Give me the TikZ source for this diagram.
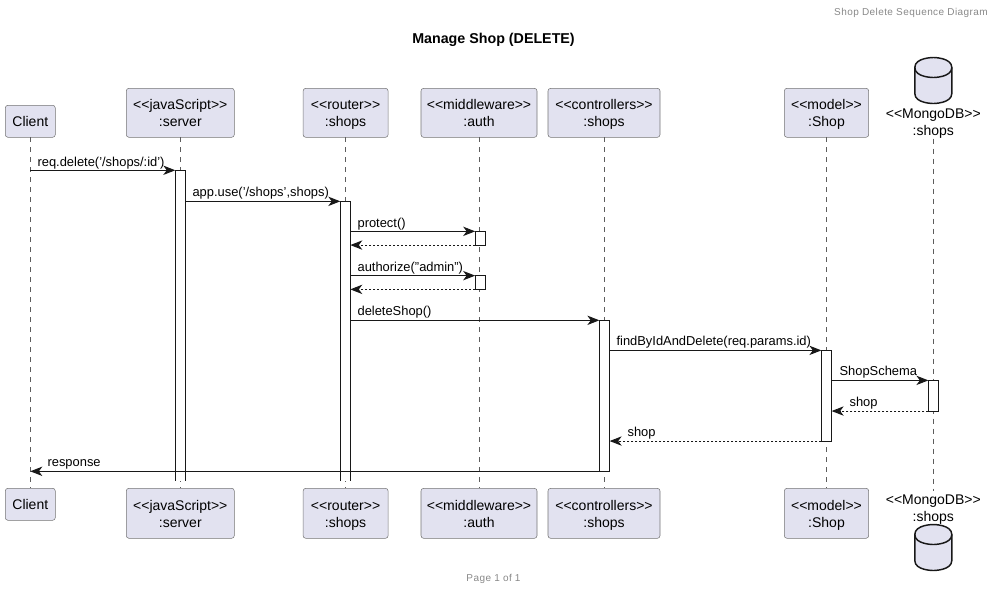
\documentclass[tikz,border=0pt]{standalone}
\usepackage{fontspec}
\setmainfont{Liberation Sans}
\usetikzlibrary{arrows.meta}
\definecolor{boxFill}{HTML}{E2E2F0}
\definecolor{lineDark}{HTML}{181818}
\definecolor{noteGray}{HTML}{888888}
\newcommand{\lineProp}{\rule[-2.3pt]{0pt}{12.75pt}}
\newcommand{\stereoText}[2]{\lineProp<{}<#1>{}>\\\lineProp#2}
\tikzset{
	dbDrum/.pic={
		\draw[draw=lineDark, fill=boxFill, line width=1.1pt] (-18.5,10) .. controls (-18.5,0) and (0,0) .. (0,0) .. controls (0,0) and (18.5,0) .. (18.5,10) -- (18.5,36) .. controls (18.5,46) and (0,46) .. (0,46) .. controls (0,46) and (-18.5,46) .. (-18.5,36) -- cycle;
		\draw[draw=lineDark, line width=1.1pt] (-18.5,10) .. controls (-18.5,20) and (0,20) .. (0,20) .. controls (0,20) and (18.5,20) .. (18.5,10);
	}
}
\tikzstyle{actorBox}=[draw=lineDark!60, fill=boxFill, rounded corners=2pt, line width=.4pt, align=center, inner sep=0pt, outer sep=0pt, font=\fontsize{10.5}{12.75}\selectfont]
\tikzstyle{dbText}=[align=center, inner sep=0pt, outer sep=0pt, font=\fontsize{10.5}{12.75}\selectfont]
\tikzstyle{lifeLine}=[draw=lineDark!70, line width=.4pt, dash pattern=on 3.75pt off 3.75pt]
\tikzstyle{activeBar}=[draw=lineDark, fill=white, line width=.75pt, minimum width=7.7pt, inner sep=0pt, outer sep=0pt]
\tikzstyle{openBar}=[fill=white, minimum width=7.5pt, inner sep=0pt, outer sep=0pt]
\tikzstyle{barEdge}=[draw=lineDark, line width=.75pt]
\tikzstyle{callMsg}=[draw=lineDark, line width=.75pt, -{Stealth[length=9pt, width=7pt, inset=2.6pt]}]
\tikzstyle{returnMsg}=[callMsg, dash pattern=on 1.5pt off 1.5pt]
\tikzstyle{msgText}=[anchor=base west, inner sep=0pt, font=\fontsize{9.68}{12}\selectfont]

\begin{document}
\begin{tikzpicture}[x=.75pt, y=-.75pt]
	\useasboundingbox (0,0) rectangle (994,590);

	\node[anchor=base east, inner sep=0pt, text=noteGray, font=\fontsize{7.5}{9}\selectfont\addfontfeature{LetterSpace=4.2}] (headerText) at (988,15.5) {Shop Delete Sequence Diagram};
	\node[inner sep=0pt, font=\fontsize{10.7}{12}\selectfont\bfseries] (titleText) at (493.5,39.5) {Manage Shop (DELETE)};
	\node[inner sep=0pt, text=noteGray, font=\fontsize{7.5}{9}\selectfont\addfontfeature{LetterSpace=4.2}] (footerText) at (493.5,578.5) {Page 1 of 1};

	% top row
	\node[actorBox, minimum width=37.5pt, minimum height=24pt] (clientTop) at (30.3,121.3) {\lineProp Client};
	\node[actorBox, minimum width=81pt, minimum height=36.75pt] (serverTop) at (180.3,112.8) {\stereoText{javaScript}{:server}};
	\node[actorBox, minimum width=63.75pt, minimum height=36.75pt] (routerTop) at (345.6,112.8) {\stereoText{router}{:shops}};
	\node[actorBox, minimum width=87pt, minimum height=36.75pt] (authTop) at (479,112.8) {\stereoText{middleware}{:auth}};
	\node[actorBox, minimum width=84pt, minimum height=36.75pt] (ctrlTop) at (604,112.8) {\stereoText{controllers}{:shops}};
	\node[actorBox, minimum width=63.25pt, minimum height=36.75pt] (modelTop) at (826.5,112.8) {\stereoText{model}{:Shop}};
	\node[dbText] (dbTop) at (933.3,121.5) {\stereoText{MongoDB}{:shops}};
	\pic at (933.3,57.5) {dbDrum};

	% bottom row
	\node[actorBox, minimum width=37.5pt, minimum height=24pt] (clientEnd) at (30.3,504.3) {\lineProp Client};
	\node[actorBox, minimum width=81pt, minimum height=37.5pt] (serverEnd) at (180.3,513.3) {\stereoText{javaScript}{:server}};
	\node[actorBox, minimum width=63.75pt, minimum height=37.5pt] (routerEnd) at (345.6,513.3) {\stereoText{router}{:shops}};
	\node[actorBox, minimum width=87pt, minimum height=37.5pt] (authEnd) at (479,513.3) {\stereoText{middleware}{:auth}};
	\node[actorBox, minimum width=84pt, minimum height=37.5pt] (ctrlEnd) at (604,513.3) {\stereoText{controllers}{:shops}};
	\node[actorBox, minimum width=63.25pt, minimum height=37.5pt] (modelEnd) at (826.5,513.3) {\stereoText{model}{:Shop}};
	\node[dbText] (dbEnd) at (933.3,507.5) {\stereoText{MongoDB}{:shops}};
	\pic at (933.3,524.5) {dbDrum};

	% life lines
	\draw[lifeLine] (clientTop) -- (clientEnd);
	\draw[lifeLine] (serverTop) -- (serverEnd);
	\draw[lifeLine] (routerTop) -- (routerEnd);
	\draw[lifeLine] (authTop) -- (authEnd);
	\draw[lifeLine] (ctrlTop) -- (ctrlEnd);
	\draw[lifeLine] (modelTop) -- (modelEnd);
	\draw[lifeLine] (dbTop) -- (dbEnd);

	% activations
	\node[openBar, minimum height=233pt] (serverBar) at (180.3,325.6) {};
	\draw[barEdge] (serverBar.south west) -- (serverBar.north west) -- (serverBar.north east) -- (serverBar.south east);
	\node[openBar, minimum height=209.8pt] (routerBar) at (345.3,341.2) {};
	\draw[barEdge] (routerBar.south west) -- (routerBar.north west) -- (routerBar.north east) -- (routerBar.south east);
	\node[activeBar, minimum height=10.3pt] (authBarA) at (480.3,238.2) {};
	\node[activeBar, minimum height=10.3pt] (authBarB) at (480.3,282.5) {};
	\node[activeBar, minimum height=113.25pt] (ctrlBar) at (604.5,395.8) {};
	\node[activeBar, minimum height=68pt] (modelBar) at (826.5,395.7) {};
	\node[activeBar, minimum height=23pt] (dbBar) at (933.5,395.7) {};

	% messages
	\draw[callMsg] (clientTop.south |- serverBar.north) -- (serverBar.north west);
	\draw[callMsg] (serverBar.east |- routerBar.north) -- (routerBar.north west);
	\draw[callMsg] (routerBar.east |- authBarA.north) -- (authBarA.north west);
	\draw[returnMsg] (authBarA.south west) -- (routerBar.east |- authBarA.south);
	\draw[callMsg] (routerBar.east |- authBarB.north) -- (authBarB.north west);
	\draw[returnMsg] (authBarB.south west) -- (routerBar.east |- authBarB.south);
	\draw[callMsg] (routerBar.east |- ctrlBar.north) -- (ctrlBar.north west);
	\draw[callMsg] (ctrlBar.east |- modelBar.north) -- (modelBar.north west);
	\draw[callMsg] (modelBar.east |- dbBar.north) -- (dbBar.north west);
	\draw[returnMsg] (dbBar.south west) -- (modelBar.east |- dbBar.south);
	\draw[returnMsg] (modelBar.south west) -- (ctrlBar.east |- modelBar.south);
	\draw[callMsg] (ctrlBar.south west) -- (clientTop.south |- ctrlBar.south);

	\node[msgText] (reqText) at (37.3,166) {req.delete('/shops/:id')};
	\node[msgText] (useText) at (192.3,196.5) {app.use('/shops',shops)};
	\node[msgText] (protectText) at (357.3,227.5) {protect()};
	\node[msgText] (authorizeText) at (357.3,271.5) {authorize("admin")};
	\node[msgText] (deleteText) at (357.3,315.5) {deleteShop()};
	\node[msgText] (findText) at (616.3,345.8) {findByIdAndDelete(req.params.id)};
	\node[msgText] (schemaText) at (839.3,375.8) {ShopSchema};
	\node[msgText] (shopTextA) at (849.3,406) {shop};
	\node[msgText] (shopTextB) at (627.3,436.7) {shop};
	\node[msgText] (responseText) at (47.3,466.8) {response};
\end{tikzpicture}
\end{document}
